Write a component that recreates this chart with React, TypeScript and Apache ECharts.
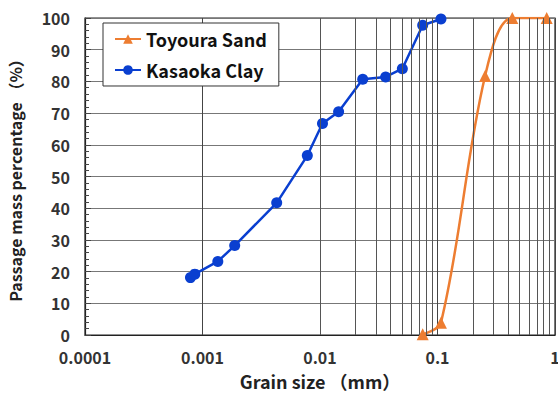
import React, { useEffect, useRef } from "react";
import * as echarts from "echarts";

const sandSize = [0.0748, 0.107, 0.254, 0.433, 0.85];
const sandPass = [0.2, 3.9, 81.7, 100, 100];

const claySize = [0.00079, 0.00086, 0.00135, 0.00188, 0.00428, 0.0078, 0.0105, 0.0144, 0.0231, 0.0362, 0.0502, 0.0748, 0.107];
const clayPass = [18.1, 19.2, 23.2, 28.2, 41.7, 56.6, 66.7, 70.4, 80.7, 81.4, 84.0, 97.7, 99.7];

const xTickLabels = ["0.0001", "0.001", "0.01", "0.1", "1"];
const decades = [0.0001, 0.001, 0.01, 0.1];
const minorMultipliers = [2, 3, 4, 5, 6, 7, 8, 9];

const FONT = '"Noto Sans CJK JP", "Noto Sans", sans-serif';

export default function App() {
  const ref = useRef<HTMLDivElement>(null);
  useEffect(() => {
    if (!ref.current) return;
    const chart = echarts.init(ref.current, undefined, { renderer: "svg" });
    const minorLines: any[] = [];
    decades.forEach((d) => {
      minorMultipliers.forEach((m) => {
        minorLines.push({ xAxis: parseFloat((d * m).toPrecision(3)) });
      });
    });
    const labelMap: Record<string, string> = {};
    xTickLabels.forEach((l) => (labelMap[String(parseFloat(l))] = l));
    chart.setOption({
      animation: false,
      backgroundColor: "#fff",
      grid: {
        left: 85,
        right: 3,
        top: 18,
        bottom: 59,
        show: true,
        borderColor: "#222",
        borderWidth: 1.2,
        containLabel: false,
        outerBoundsMode: "none",
      },
      legend: {
        data: ["Toyoura Sand", "Kasaoka Clay"],
        orient: "vertical",
        left: 103,
        top: 23,
        padding: [7, 12, 7, 11],
        itemGap: 13,
        itemWidth: 26,
        itemHeight: 12,
        backgroundColor: "#fff",
        borderColor: "#333",
        borderWidth: 1,
        textStyle: { fontFamily: FONT, fontWeight: "bold", fontSize: 18, color: "#111" },
      },
      xAxis: {
        type: "log",
        logBase: 10,
        min: 0.0001,
        max: 1,
        name: "Grain size （mm）",
        nameLocation: "middle",
        nameGap: 37,
        nameTextStyle: { fontFamily: FONT, fontWeight: "bold", fontSize: 18, lineHeight: 18, color: "#222" },
        axisLine: { lineStyle: { color: "#222", width: 1.2 } },
        axisTick: { show: false },
        axisLabel: {
          fontFamily: FONT,
          fontWeight: "bold",
          fontSize: 16,
          color: "#333",
          margin: 14,
          lineHeight: 16,
          formatter: (v: number) => labelMap[String(v)] ?? String(v),
        },
        splitLine: { show: true, lineStyle: { color: "#444", width: 1 } },
      },
      yAxis: {
        type: "value",
        min: 0,
        max: 100,
        interval: 10,
        name: "Passage mass percentage （%）",
        nameLocation: "middle",
        nameGap: 62,
        nameTextStyle: { fontFamily: FONT, fontWeight: "bold", fontSize: 16, lineHeight: 16, color: "#222" },
        axisLine: { show: true, lineStyle: { color: "#222", width: 1.2 } },
        axisTick: { show: true, inside: true, length: 6, lineStyle: { color: "#444" } },
        minorTick: { show: true, splitNumber: 5, length: 4, lineStyle: { color: "#444" } },
        axisLabel: { fontFamily: FONT, fontWeight: "bold", fontSize: 16, lineHeight: 16, color: "#333", margin: 15 },
        splitLine: { show: true, lineStyle: { color: "#777", width: 1 } },
      },
      series: [
        {
          name: "_minor",
          type: "line",
          data: [],
          silent: true,
          z: 1,
          markLine: {
            silent: true,
            symbol: ["none", "none"],
            label: { show: false },
            lineStyle: { color: "#555", width: 1, type: "solid" },
            data: minorLines,
            animation: false,
          },
        },
        {
          name: "Toyoura Sand",
          type: "line",
          smooth: 0.35,
          symbol: "triangle",
          symbolSize: 12,
          z: 3,
          color: "#ED7D31",
          lineStyle: { color: "#ED7D31", width: 2.5 },
          itemStyle: { color: "#ED7D31" },
          data: sandSize.map((x, i) => [x, sandPass[i]]),
        },
        {
          name: "Kasaoka Clay",
          type: "line",
          symbol: "circle",
          symbolSize: 11,
          z: 3,
          color: "#0A3FD0",
          lineStyle: { color: "#0A3FD0", width: 2.5 },
          itemStyle: { color: "#0A3FD0" },
          data: claySize.map((x, i) => [x, clayPass[i]]),
        },
      ],
    });
    return () => chart.dispose();
  }, []);
  return <div ref={ref} style={{ width: 558, height: 394, position: "absolute", left: 0, top: 0 }} />;
}
